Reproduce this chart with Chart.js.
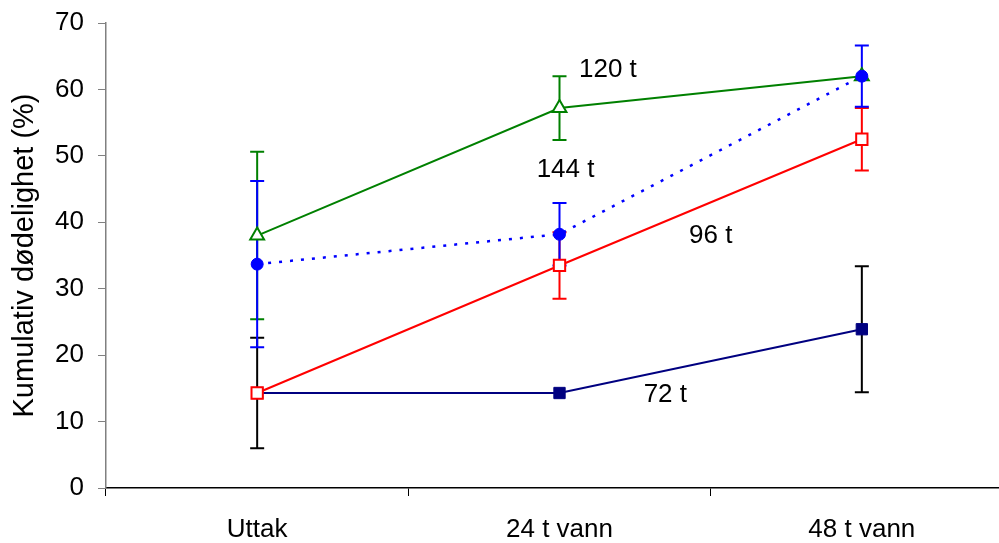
<!DOCTYPE html>
<html>
<head>
<meta charset="utf-8">
<script src="https://cdn.jsdelivr.net/npm/chart.js@4.4.0/dist/chart.umd.min.js"></script>
<style>
  html, body { margin: 0; padding: 0; background: #fff; overflow: hidden; }
  #wrap { width: 1023px; height: 543px; }
</style>
</head>
<body>
<div id="wrap"><canvas id="chart" width="1023" height="543"></canvas></div>
<script>
// categories and series values
var categories = ["Uttak", "24 t vann", "48 t vann"];

var t72 = [14.3, 14.3, 23.9];
var t72Err = [8.3, 0, 9.5];

var t96 = [14.3, 33.5, 52.5];
var t96Err = [0, 5.0, 4.7];

var t120 = [38.0, 57.2, 62.0];
var t120Err = [12.6, 4.8, 0];

var t144 = [33.7, 38.2, 62.0];
var t144Err = [12.5, 4.7, 4.6];

// label texts and where they sit (category index, value)
var noteText = ["120 t", "144 t", "96 t", "72 t"];
var noteX = [1.16, 1.02, 1.5, 1.35];
var noteY = [62.9, 47.9, 37.9, 14.0];

var yTicks = [0, 10, 20, 30, 40, 50, 60, 70];

var FONT = "'Liberation Sans', Arial, sans-serif";

// error bars drawn through the scales (first dataset ends up on top)
var errorBars = {
  id: "errorBars",
  beforeDatasetsDraw(chart) {
    let ctx = chart.ctx;
    let x = chart.scales.x, y = chart.scales.y;
    chart.data.datasets.slice().reverse().forEach(function (ds) {
      ctx.save();
      ctx.strokeStyle = ds.errColor;
      ctx.lineWidth = 2;
      ds.data.forEach(function (v, i) {
        let e = ds.err[i];
        if (!e) return;
        let px = x.getPixelForValue(i);
        let top = y.getPixelForValue(v + e);
        let bot = y.getPixelForValue(v - e);
        ctx.beginPath();
        ctx.moveTo(px, top); ctx.lineTo(px, bot);
        ctx.moveTo(px - 7, top); ctx.lineTo(px + 7, top);
        ctx.moveTo(px - 7, bot); ctx.lineTo(px + 7, bot);
        ctx.stroke();
      });
      ctx.restore();
    });
  }
};

var notes = {
  id: "notes",
  afterDatasetsDraw(chart) {
    let ctx = chart.ctx;
    let x = chart.scales.x, y = chart.scales.y;
    ctx.save();
    ctx.fillStyle = "#000";
    ctx.font = "26px " + FONT;
    ctx.textAlign = "center";
    ctx.textBaseline = "middle";
    noteText.forEach(function (t, i) {
      ctx.fillText(t, x.getPixelForValue(noteX[i]), y.getPixelForValue(noteY[i]));
    });
    ctx.restore();
  }
};

let ctx = document.getElementById("chart").getContext("2d");

let chart = new Chart(ctx, {
  type: "line",
  data: {
    labels: categories,
    datasets: [
      {
        label: "144 t",
        data: t144,
        err: t144Err,
        errColor: "#0000FF",
        borderColor: "#0000FF",
        backgroundColor: "#0000FF",
        borderDash: [3, 8],
        pointStyle: "circle",
        pointRadius: 6,
        borderWidth: 2.5,
        pointBorderWidth: 1,
        fill: false,
        tension: 0,
      },
      {
        label: "120 t",
        data: t120,
        err: t120Err,
        errColor: "#008000",
        borderColor: "#008000",
        backgroundColor: "#FFFFFF",
        pointStyle: "triangle",
        pointRadius: 8,
        borderWidth: 2,
        pointBorderWidth: 2,
        fill: false,
        tension: 0,
      },
      {
        label: "96 t",
        data: t96,
        err: t96Err,
        errColor: "#FF0000",
        borderColor: "#FF0000",
        backgroundColor: "#FFFFFF",
        pointStyle: "rect",
        pointRadius: 8,
        borderWidth: 2,
        pointBorderWidth: 2,
        fill: false,
        tension: 0,
      },
      {
        label: "72 t",
        data: t72,
        err: t72Err,
        errColor: "#000000",
        borderColor: "#000080",
        backgroundColor: "#000080",
        pointStyle: "rect",
        pointRadius: 8,
        borderWidth: 2,
        pointBorderWidth: 1,
        fill: false,
        tension: 0,
      },
    ],
  },
  options: {
    responsive: false,
    animation: false,
    layout: { padding: { top: 23, right: 0, left: 0, bottom: 0 } },
    plugins: {
      legend: { display: false },
      tooltip: { enabled: false },
    },
    scales: {
      x: {
        type: "category",
        offset: true,
        grid: {
          offset: true,
          drawOnChartArea: false,
          tickLength: 8,
          color: "#000",
          lineWidth: 1,
        },
        border: { color: "#000", width: 1.5 },
        ticks: {
          color: "#000",
          font: { size: 26, family: FONT },
          padding: 18,
          maxRotation: 0,
        },
        afterFit(scale) { scale.height = 55; },
      },
      y: {
        min: 0,
        max: 70,
        afterBuildTicks(scale) {
          scale.ticks = yTicks.map(function (v) { return { value: v }; });
        },
        grid: {
          drawOnChartArea: false,
          tickLength: 8,
          color: "#808080",
        },
        border: { color: "#808080", width: 1.5 },
        ticks: {
          color: "#000",
          font: { size: 26, family: FONT },
          padding: 14,
        },
        title: {
          display: true,
          text: "Kumulativ dødelighet (%)",
          color: "#000",
          font: { size: 29, family: FONT },
          padding: { top: 8, bottom: 0 },
        },
        afterFit(scale) {
          scale.width = 106;
          scale.paddingTop = 0;
          scale.paddingBottom = 0;
        },
      },
    },
  },
  plugins: [errorBars, notes],
});
</script>
</body>
</html>
